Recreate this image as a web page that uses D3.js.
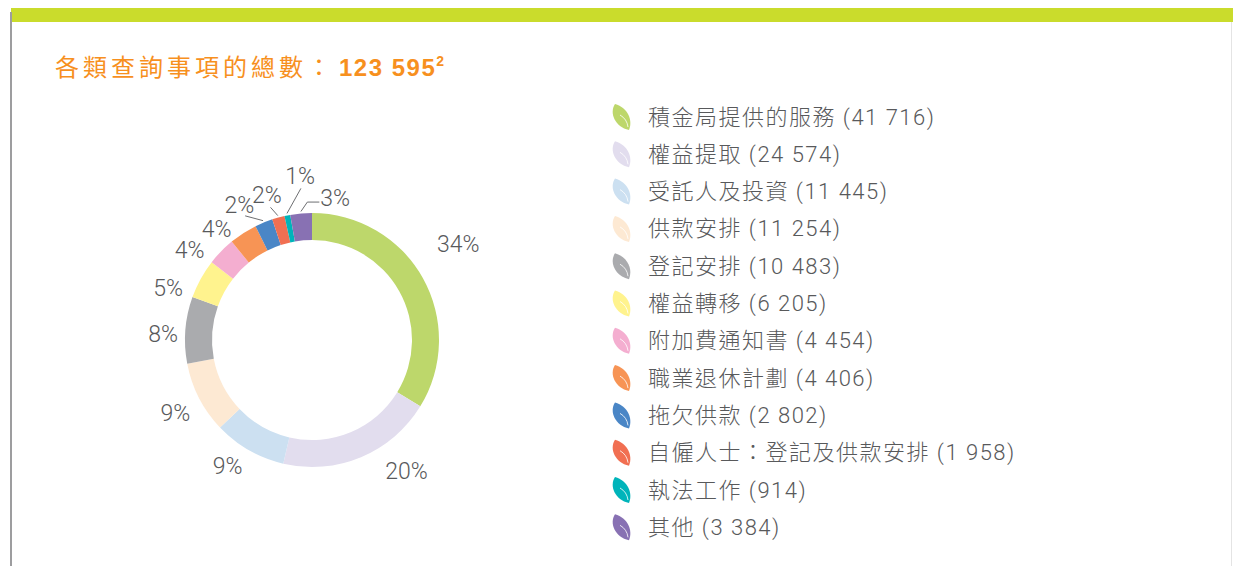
<!DOCTYPE html>
<html>
<head>
<meta charset="utf-8">
<script src="https://cdn.jsdelivr.net/npm/d3@7"></script>
<style>
  body { margin: 0; background: #fff; }
  svg { display: block; }
</style>
</head>
<body>
<svg id="chart" width="1233" height="566"></svg>
<script>
  // chart data
  var categories = ['積金局提供的服務', '權益提取', '受託人及投資', '供款安排', '登記安排', '權益轉移',
    '附加費通知書', '職業退休計劃', '拖欠供款', '自僱人士：登記及供款安排', '執法工作', '其他'];
  var values = [41716, 24574, 11445, 11254, 10483, 6205, 4454, 4406, 2802, 1958, 914, 3384];
  var colors = ['#bdd76b', '#e2ddee', '#cce0f1', '#fde9d3', '#aaabae', '#fff38e',
    '#f4aed0', '#f79455', '#4a86c6', '#f16f52', '#00b4ba', '#8871b3'];
  var titleText = '各類查詢事項的總數：';
  var titleTotal = '123 595';
  var titleNote = '2';

  var total = d3.sum(values);
  var fmt = d3.formatLocale({ decimal: '.', thousands: ' ', grouping: [3], currency: ['', ''] }).format(',d');

  var svg = d3.select('#chart');
  var textColor = '#58595b';
  var font = 'Roboto, "Noto Sans CJK TC", sans-serif';

  // frame: green top bar, grey left + right rules
  svg.append('rect').attr('x', 11).attr('y', 8).attr('width', 1222).attr('height', 14).attr('fill', '#cadc2c');
  svg.append('rect').attr('x', 10).attr('y', 12).attr('width', 2).attr('height', 554).attr('fill', '#9d9d9f');
  svg.append('rect').attr('x', 1231).attr('y', 22).attr('width', 1).attr('height', 544).attr('fill', '#e4e4e4');

  // title
  var title = svg.append('text')
    .attr('x', 55).attr('y', 76)
    .attr('fill', '#f7901e')
    .style('font-family', font)
    .style('font-size', '24px');
  title.append('tspan').style('letter-spacing', '4px').text(titleText);
  title.append('tspan').style('font-weight', 'bold').style('font-family', '"Liberation Sans", Arial, sans-serif')
    .style('letter-spacing', '1.5px').attr('dx', 4).text(titleTotal);
  title.append('tspan').style('font-weight', 'bold').style('font-family', '"Liberation Sans", Arial, sans-serif')
    .style('font-size', '14px').attr('dy', -10).text(titleNote);

  // donut
  var cx = 312, cy = 340, rOuter = 127, rInner = 100;
  var pie = d3.pie().sort(null).value(function (d) { return d; });
  var arc = d3.arc().innerRadius(rInner).outerRadius(rOuter);
  var arcs = pie(values);

  var g = svg.append('g').attr('transform', 'translate(' + cx + ',' + cy + ')');
  g.selectAll('path.slice')
    .data(arcs)
    .enter()
    .append('path')
    .attr('class', 'slice')
    .attr('d', arc)
    .attr('fill', function (d, i) { return colors[i]; });

  // label placement (hand tuned like the original): angle nudge in degrees, radius
  var labelNudge = [-4, -13, 4, -1, -2.5, -9, -8, -8, -6, -2, 7, 17];
  var labelRadius = [175, 162, 152, 155, 149, 153, 152, 146, 153, 151, 164, 144];

  function polar(a, r) {
    return [r * Math.sin(a), -r * Math.cos(a)];
  }

  arcs.forEach(function (d, i) {
    var mid = (d.startAngle + d.endAngle) / 2;
    var la = mid + labelNudge[i] * Math.PI / 180;
    var p = polar(la, labelRadius[i]);
    var frac = d.value / total;
    var pct = Math.round(frac * 100) + '%';

    if (frac < 0.03) {
      var s = polar(mid, rOuter + 2);
      var pts;
      if (la > 2 * Math.PI) {
        var e = polar(mid + 3 * Math.PI / 180, rOuter + 11);
        pts = [s, e, [e[0] + 12, e[1]]];
        p = [e[0] + 13, e[1] - 4];
      } else {
        var e2 = polar(la, labelRadius[i] - 12);
        pts = [s, e2];
      }
      g.append('path')
        .attr('d', d3.line()(pts))
        .attr('fill', 'none')
        .attr('stroke', '#6d6e71')
        .attr('stroke-width', 1);
    }

    g.append('text')
      .attr('x', p[0]).attr('y', p[1])
      .attr('text-anchor', (frac < 0.03 && la > 2 * Math.PI) ? 'start' : 'middle')
      .attr('dominant-baseline', 'central')
      .attr('fill', textColor)
      .style('font-family', font)
      .style('font-weight', 300)
      .style('font-size', '23px')
      .text(pct);
  });

  // legend
  var leaf = 'M3,0 C-3,9 3,23 17,26 C21,16 16,4 3,0 Z';
  var vein = 'M8,11 Q15,15 16,23';
  var legend = svg.append('g').attr('transform', 'translate(612,104)');
  var rows = legend.selectAll('g.row')
    .data(categories)
    .enter()
    .append('g')
    .attr('class', 'row')
    .attr('transform', function (d, i) { return 'translate(0,' + (i * 37.3) + ')'; });

  rows.append('path')
    .attr('d', leaf)
    .attr('fill', function (d, i) { return colors[i]; });
  rows.append('path')
    .attr('d', vein)
    .attr('fill', 'none')
    .attr('stroke', '#fff')
    .attr('stroke-width', 1)
    .attr('opacity', 0.8);

  rows.append('text')
    .attr('x', 36).attr('y', 13)
    .attr('dominant-baseline', 'central')
    .attr('fill', textColor)
    .style('font-family', font)
    .style('font-weight', 300)
    .style('font-size', '22px')
    .style('letter-spacing', '1.5px')
    .text(function (d, i) { return d + ' (' + fmt(values[i]) + ')'; });
</script>
</body>
</html>
